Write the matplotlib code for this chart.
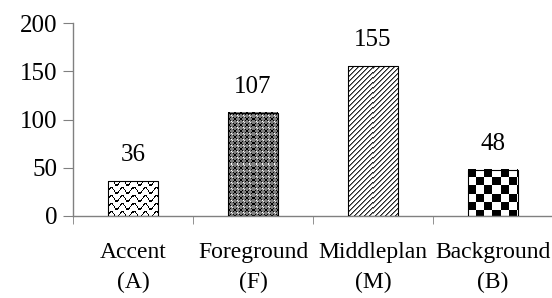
import numpy as np
import matplotlib
matplotlib.use('Agg')
import matplotlib.pyplot as plt

categories = ['Accent\n(A)', 'Foreground\n(F)', 'Middleplan\n(M)', 'Background\n(B)']
values = [36, 107, 155, 48]
yticks = [0, 50, 100, 150, 200]

plt.rcParams['font.family'] = ['Liberation Serif', 'DejaVu Serif']


def texture(kind, w, h):
    xx, yy = np.meshgrid(np.arange(w), np.arange(h))
    img = np.ones((h, w))
    if kind == 'wave':
        ph = yy + 3.0 * np.sin(2 * np.pi * xx / 11.0)
        img[(ph % 8) < 1.8] = 0.0
    elif kind == 'cross':
        img[:] = 0.5
        a = xx % 6
        b = yy % 6
        img[(a < 2) & (b < 2)] = 0.0
        img[((a == 2) | (a == 5)) & ((b == 2) | (b == 5))] = 0.0
        img[(a == 3) & (b == 3)] = 1.0
        img[(a == 4) & (b == 4)] = 0.9
    elif kind == 'diag':
        d = (xx + yy) % 5
        img[d == 0] = 0.15
        img[d == 1] = 0.5
    elif kind == 'check':
        img = (((xx // 8) + (yy // 8)) % 2).astype(float)
    return np.dstack([img, img, img])


fig = plt.figure(figsize=(5.52, 2.98), dpi=100)
ax = fig.add_axes([73 / 552, 82 / 298, 480 / 552, 193 / 298])

x = np.arange(len(values))
bars = ax.bar(x, values, width=0.41, facecolor='none', edgecolor='black', linewidth=0.8, zorder=3)
ax.set_xlim(-0.5, 3.5)
ax.set_ylim(0, 200)

fig.canvas.draw()
kinds = ['wave', 'cross', 'diag', 'check']
for b, k in zip(bars, kinds):
    x0, y0 = b.get_x(), 0
    x1, y1 = b.get_x() + b.get_width(), b.get_height()
    p0 = ax.transData.transform((x0, y0))
    p1 = ax.transData.transform((x1, y1))
    w = int(round(p1[0] - p0[0]))
    h = int(round(p1[1] - p0[1]))
    ax.imshow(texture(k, w, h), extent=(x0, x1, y0, y1), aspect='auto',
              interpolation='nearest', zorder=2)
ax.set_xlim(-0.5, 3.5)
ax.set_ylim(0, 200)

for xi, v in zip(x, values):
    ax.text(xi, v + 27, str(v), ha='center', va='center', fontsize=18)

for s in ['top', 'right']:
    ax.spines[s].set_visible(False)
for s in ['left', 'bottom']:
    ax.spines[s].set_color('#808080')
    ax.spines[s].set_linewidth(1)

ax.set_yticks(yticks)
ax.tick_params(axis='y', colors='#808080', labelcolor='black', labelsize=18,
               length=7, pad=4, direction='out')
ax.set_xticks(x)
ax.set_xticklabels(categories, fontsize=17, linespacing=1.5)
ax.tick_params(axis='x', length=0, pad=19)
ax.set_xticks(np.arange(-0.5, 3.6, 1), minor=True)
ax.tick_params(axis='x', which='minor', length=6, colors='#808080')

fig.savefig('out.png', dpi=100)
